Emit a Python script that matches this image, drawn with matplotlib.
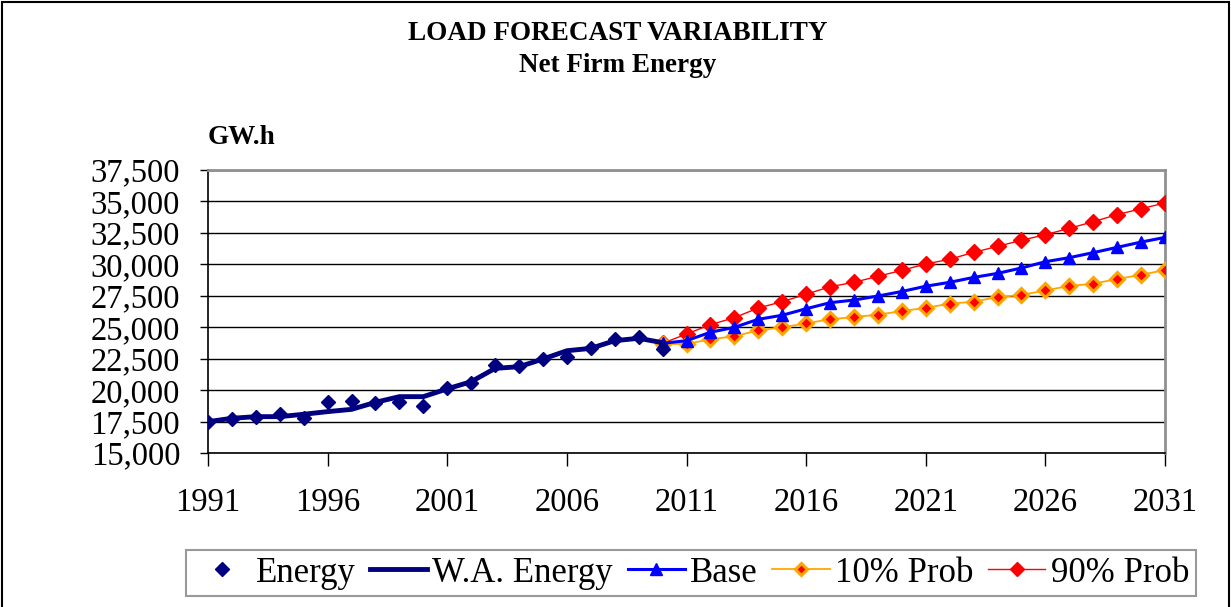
import matplotlib
matplotlib.use("Agg")
import matplotlib.pyplot as plt
from matplotlib.ticker import FuncFormatter, FixedLocator
from matplotlib.patches import Rectangle

# ---- data ----
hist_years = list(range(1991, 2011))
energy = [17490, 17680, 17840, 18080, 17810, 19030, 19130, 18950, 19080, 18760,
          20140, 20540, 22000, 21940, 22470, 22600, 23320, 24060, 24200, 23270]
wa_energy = [17490, 17760, 17890, 17890, 18080, 18290, 18470, 19030, 19480, 19480,
             20100, 20670, 21730, 21860, 22470, 23130, 23320, 23930, 24120, 23770]

fc_years = list(range(2010, 2032))
base = [23720, 23930, 24600, 24990, 25630, 25950, 26470, 26950, 27160, 27480, 27840,
        28260, 28570, 28960, 29280, 29710, 30210, 30530, 30930, 31350, 31770, 32140]
prob10 = [23670, 23670, 24040, 24280, 24750, 24990, 25310, 25630, 25810, 26000, 26280,
          26540, 26870, 27030, 27400, 27560, 27930, 28280, 28460, 28830, 29170, 29550]
prob90 = [23720, 24460, 25200, 25760, 26530, 27030, 27620, 28220, 28570, 29050, 29520,
          30030, 30400, 30950, 31430, 31910, 32360, 32860, 33390, 33950, 34420, 34880]

x_ticks = [1991, 1996, 2001, 2006, 2011, 2016, 2021, 2026, 2031]
y_ticks = [15000, 17500, 20000, 22500, 25000, 27500, 30000, 32500, 35000, 37500]

title = "LOAD FORECAST VARIABILITY"
subtitle = "Net Firm Energy"
unit = "GW.h"

# ---- figure ----
W, H = 1231, 607
fig = plt.figure(figsize=(W / 100, H / 100), dpi=100)
serif = ["Liberation Serif", "DejaVu Serif"]

ax = fig.add_axes([208 / W, 1 - 453 / H, (1165 - 208) / W, (453 - 170) / H])

ax.plot(fc_years, prob90, color="#FF0000", lw=1.0, marker="D", ms=8,
        mfc="#FF0000", mec="#FF0000", label="90% Prob", zorder=3)
ax.plot(fc_years, prob10, color="#FFA500", lw=1.3, marker="D", ms=7,
        mfc="#FF0000", mec="#FFA500", mew=2.2, label="10% Prob", zorder=3)
ax.plot(fc_years, base, color="#0000FF", lw=2.2, marker="^", ms=9,
        mfc="#0000FF", mec="#0000FF", label="Base", zorder=4)
ax.plot(hist_years, wa_energy, color="#000080", lw=3.5, label="W.A. Energy", zorder=5)
ax.plot(hist_years, energy, ls="none", marker="D", ms=7.5, color="#000080",
        label="Energy", zorder=6)

ax.set_xlim(1991, 2031)
ax.set_ylim(15000, 37500)
ax.xaxis.set_major_locator(FixedLocator(x_ticks))
ax.yaxis.set_major_locator(FixedLocator(y_ticks))
ax.yaxis.set_major_formatter(FuncFormatter(lambda v, p: f"{int(v):,}"))
ax.grid(axis="y", color="black", lw=1.0)
ax.set_axisbelow(True)

for s in ["top", "right"]:
    ax.spines[s].set_color("#909090")
    ax.spines[s].set_linewidth(2.0)
for s in ["left", "bottom"]:
    ax.spines[s].set_color("black")
    ax.spines[s].set_linewidth(1.2)

ax.tick_params(axis="x", direction="out", length=9, width=1, pad=16,
               labelsize=23.5, colors="black")
ax.tick_params(axis="y", direction="out", length=6, width=1, pad=14,
               labelsize=23.5, colors="black")
for lab in ax.get_xticklabels() + ax.get_yticklabels():
    lab.set_family(serif)

fig.text(618 / W, 1 - 34 / H, title, ha="center", va="center",
         fontsize=19.5, fontweight="bold", family=serif)
fig.text(618 / W, 1 - 66 / H, subtitle, ha="center", va="center",
         fontsize=19.5, fontweight="bold", family=serif)
fig.text(208 / W, 1 - 137 / H, unit, ha="left", va="center",
         fontsize=19.5, fontweight="bold", family=serif)

handles, labels = ax.get_legend_handles_labels()
order = ["Energy", "W.A. Energy", "Base", "10% Prob", "90% Prob"]
hmap = dict(zip(labels, handles))
leg = fig.legend([hmap[k] for k in order], order, loc="center",
                 bbox_to_anchor=(691 / W, 1 - 573 / H), ncol=5,
                 prop={"family": serif, "size": 25}, frameon=True,
                 fancybox=False, edgecolor="#808080", handlelength=1.65,
                 handletextpad=0.15, columnspacing=0.42, borderpad=0.2,
                 markerscale=0.9)
leg.get_frame().set_linewidth(1.5)

fig.patches.append(Rectangle((0.002, -0.01), 0.996, 1.007, transform=fig.transFigure,
                             fill=False, edgecolor="black", lw=1.5))

fig.savefig("out.png", dpi=100, facecolor="white")
